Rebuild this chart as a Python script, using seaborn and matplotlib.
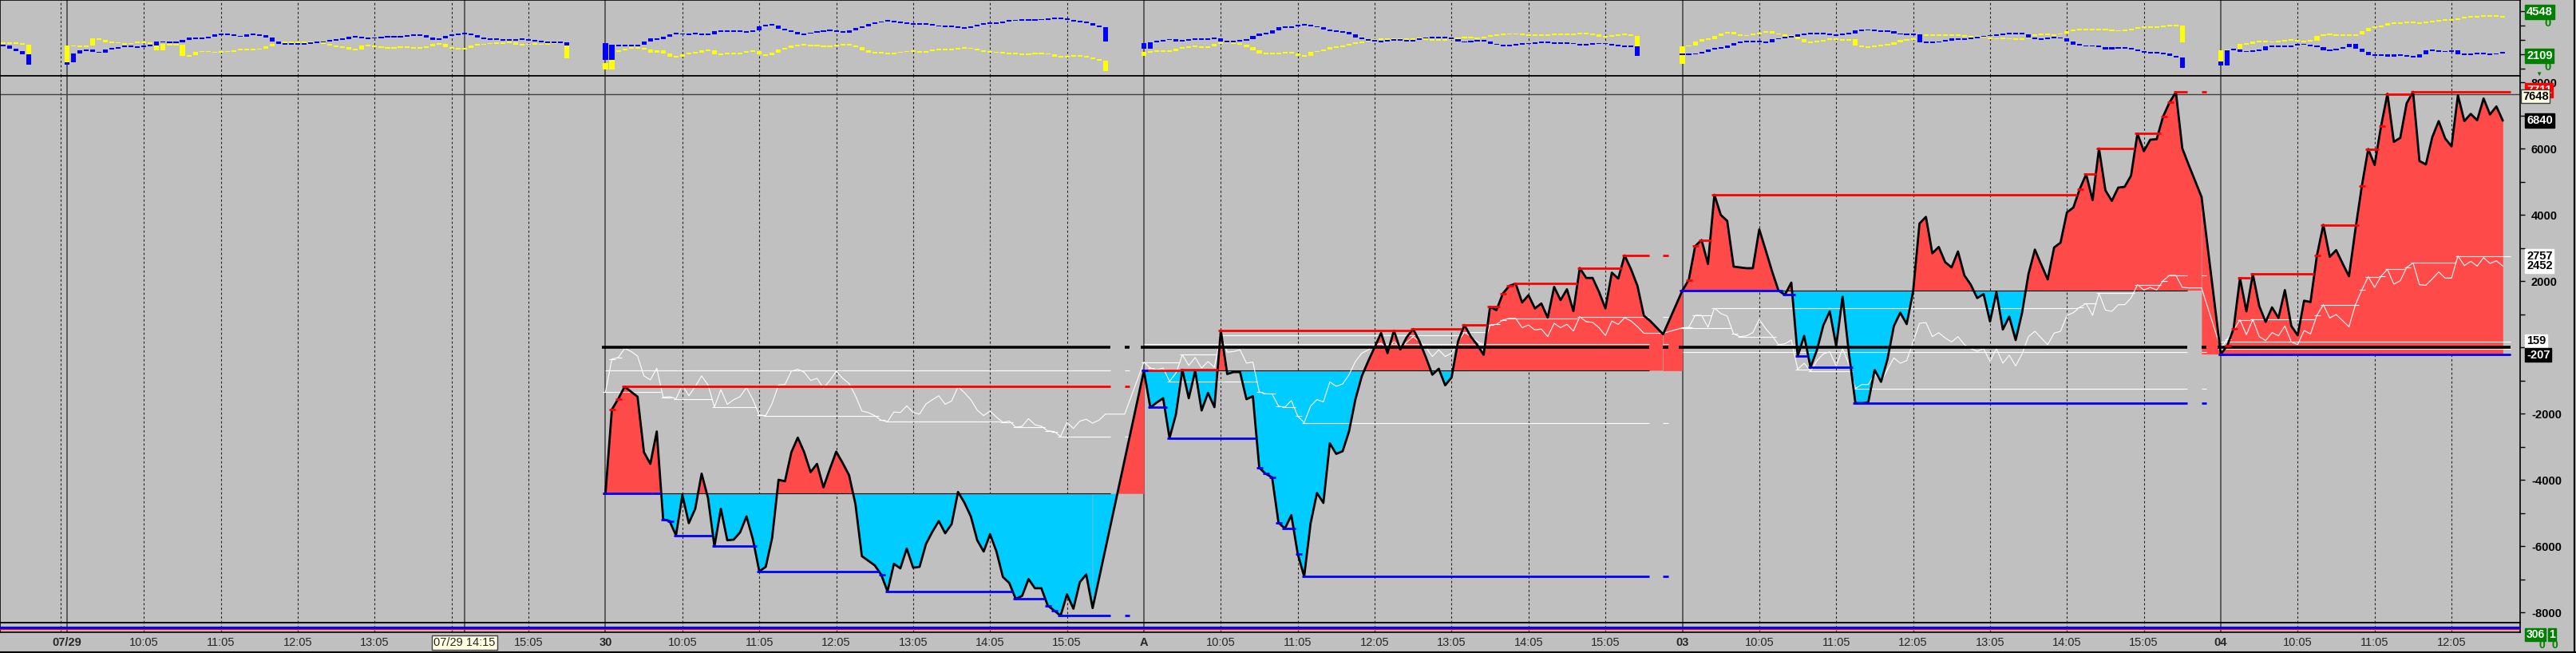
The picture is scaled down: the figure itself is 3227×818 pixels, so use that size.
import numpy as np
import pandas as pd
import matplotlib
matplotlib.use("Agg")
import matplotlib.pyplot as plt
from matplotlib.ticker import MultipleLocator, FuncFormatter, FixedLocator
import seaborn as sns

sns.set_theme(style="white")
plt.rcParams["font.family"] = ["Liberation Sans", "DejaVu Sans"]
plt.rcParams["font.weight"] = "bold"
plt.rcParams["axes.unicode_minus"] = False

# time axis: every trading day has 84 five-minute slots
day_names = ["07/29", "30", "A", "03", "04"]
day_start = [0, 84, 168, 252, 336]
hour_names = ["10:05", "11:05", "12:05", "13:05", "14:05", "15:05"]
cross_slot = 62
cross_name = "07/29 14:15"
cross_value = 7648

# main pane, black curve (one value per bar)
pnl_30 = [-4414, -1878, -1555, -1187, -1343, -1491, -3169, -3520, -2542, -5198, -5244, -5678, -4460,
          -5309, -4875, -3815, -4553, -6010, -4875, -5825, -5807, -5586, -5106, -5798, -6766, -6628,
          -5752, -4000, -4045, -3169, -2727, -3169, -3769, -3520, -4230, -3676, -3151, -3492, -3861,
          -4737, -6305, -6443, -6581, -6858, -7366, -6535, -6674, -6075, -6655, -6628, -5936, -5568,
          -5244, -5614, -5337, -4368, -4691, -5106, -5825, -6166, -5641, -6166, -6932, -7116, -7596,
          -7504, -6997, -7273, -7273, -7799, -7946, -8103, -7458, -7891, -7089, -6858, -7872]
pnl_A = [-708, -1818, -1668, -1538, -2738, -2018, -678, -1538, -708, -1908, -1378, -1808, 502, -808,
         -748, -748, -1568, -1478, -3638, -3818, -3928, -5298, -5468, -5068, -6238, -6918, -5318,
         -4398, -4698, -2898, -3218, -3138, -2538, -1568, -868, -418, 2, 432, -178, 502, -68, 302,
         552, 172, -308, -828, -648, -1148, -908, 172, 672, 322, 72, -228, 1222, 1122, 1622, 1852,
         1922, 1352, 1572, 1172, 1322, 892, 1822, 1422, 1752, 1092, 2392, 2092, 2092, 1672, 1172,
         2252, 2072, 2772, 2352, 1852, 952, 792, 592, 392]
pnl_03 = [1711, 2032, 3052, 3237, 2514, 4602, 3992, 3815, 2434, 2410, 2386, 2386, 3558, 2932, 2289,
          1711, 1582, 1952, -265, 345, -603, -81, 667, 1084, 40, 1526, -200, -1687, -1687, -1663,
          -683, -1044, -362, 642, 1044, 699, 1687, 3735, 3936, 2835, 3028, 2570, 2410, 2892, 2169,
          1888, 1486, 1606, 779, 1663, 538, 924, 217, 1044, 2209, 2948, 2490, 2048, 3012, 3157, 4072,
          4217, 4779, 5221, 4442, 6000, 4739, 4418, 4819, 4843, 5181, 6450, 5920, 6265, 6281, 6964,
          7389, 7700, 6000, 5502, 5020, 4538]
pnl_04 = [-207, 40, 562, 2088, 1084, 2209, 1245, 763, 1205, 884, 1727, 643, 361, 1406, 1365, 2771,
          3695, 2731, 2932, 2530, 2144, 3550, 4859, 5984, 5502, 6667, 7650, 6201, 6321, 7365, 7711,
          5622, 5518, 6345, 6827, 6305, 6064, 7606, 6827, 7044, 6851, 7510, 7028, 7269, 6840]

# main pane, white curve
sub_30 = [-1343, -357, -310, -34, -126, -264, -864, -984, -633, -1509, -1491, -1555, -1140, -1463,
          -1187, -864, -1140, -1804, -1279, -1721, -1583, -1491, -1214, -1583, -2044, -2063, -1694,
          -1140, -1122, -725, -661, -753, -1002, -937, -1233, -1002, -725, -937, -1094, -1463, -1924,
          -1970, -2063, -2201, -2247, -1952, -1970, -1768, -1970, -2017, -1712, -1583, -1463, -1721,
          -1620, -1187, -1371, -1583, -1897, -2063, -1924, -2109, -2266, -2229, -2413, -2385, -2155,
          -2339, -2385, -2524, -2542, -2690, -2266, -2450, -2229, -2173, -2293, -2200, -2017, -2017,
          -2017, -2017]
sub_A = [-448, -628, -678, -628, -1028, -778, -228, -548, -308, -628, -428, -608, 372, -148, -128,
         -78, -478, -448, -1348, -1408, -1408, -1778, -1808, -1608, -2078, -2278, -1778, -1578,
         -1648, -1048, -1178, -1108, -828, -428, -178, -78, 72, 122, -48, 172, -8, 152, 322, 172,
         -8, -278, -78, -278, -178, 172, 452, 322, 172, 72, 672, 692, 822, 872, 872, 592, 672, 522,
         552, 322, 722, 592, 692, 492, 922, 772, 752, 592, 352, 792, 692, 892, 792, 622, 422, 422,
         422, 422]
sub_03 = [586, 602, 964, 964, 602, 1181, 1020, 940, 402, 321, 345, 442, 843, 562, 345, 80, 104, 217,
          -667, -482, -723, -402, -201, -137, -562, -40, -522, -1245, -1125, -1125, -803, -1044, -667,
          -321, -482, -402, 161, 723, 747, 321, 442, 281, 161, 321, 80, -40, -121, -40, -426, -40,
          -482, -241, -562, -201, 321, 482, 281, 80, 426, 482, 964, 1044, 1205, 1325, 964, 1630,
          1124, 1084, 1285, 1285, 1486, 1888, 1727, 1807, 1727, 2008, 2169, 2169, 1807, 1791, 1791,
          1791]
sub_04 = [-40, 241, 522, 827, 378, 843, 321, 201, 442, 345, 643, 161, 80, 506, 402, 964, 1285, 884,
          988, 803, 618, 1285, 1727, 2128, 1807, 2145, 2353, 1904, 2008, 2410, 2546, 1888, 1872, 2064,
          2273, 2088, 2088, 2757, 2466, 2594, 2450, 2707, 2530, 2610, 2452]
ref_level = [-707, 102, -145, 159]

# top pane: yellow and blue candles (close per bar, open of each day's first bar)
top_start = [-10, 0, 84, 168, 252, 336]
yel_open = [2740, 1333, 1389, 1889, 1333, 1241]
blu_open = [2630, 1300, 2778, 2778, 2000, 1482]
yel_pre = [2778, 2815, 2778, 2667, 1400]
blu_pre = [2592, 2389, 2222, 2019, 1300]
yel_0729 = [2592, 2574, 2537, 2592, 3093, 3000, 2815, 2852, 2759, 2722, 2778, 2852, 2815, 2778, 2300,
            2750, 2630, 2667, 1889, 1926, 2167, 2222, 2167, 2111, 2222, 2167, 2296, 2352, 2315, 2315,
            2407, 2537, 2722, 2815, 2852, 2815, 2815, 2815, 2852, 2815, 2722, 2592, 2537, 2481, 2352,
            2352, 2592, 2592, 2537, 2481, 2444, 2481, 2537, 2481, 2444, 2444, 2537, 2722, 2722, 2481,
            2407, 2352, 2444, 2630, 2667, 2722, 2778, 2778, 2815, 2815, 2667, 2667, 2722, 2722, 2667,
            2778, 2815, 2815, 1741]
blu_0729 = [1426, 2074, 2259, 2333, 2167, 2111, 2352, 2389, 2518, 2592, 2537, 2481, 2592, 2592, 2870,
            2852, 2852, 2815, 3000, 3185, 3074, 3130, 3222, 3370, 3426, 3370, 3278, 3222, 3370, 3370,
            3333, 3185, 2907, 2722, 2722, 2722, 2722, 2759, 2815, 2852, 2870, 3000, 3037, 3056, 3222,
            3222, 3093, 3130, 3148, 3222, 3222, 3222, 3222, 3315, 3315, 3333, 3185, 3000, 3093, 3278,
            3370, 3426, 3426, 3333, 3185, 3037, 3037, 3037, 3000, 3000, 3037, 3037, 2944, 2944, 2870,
            2815, 2815, 2815, 2592]
yel_30 = [962, 2167, 2259, 2407, 2444, 2444, 2352, 2111, 2259, 2074, 1852, 1852, 1981, 2111, 2111,
          2296, 2296, 2019, 2019, 2111, 1981, 2111, 2222, 2222, 1981, 1944, 2111, 2352, 2444, 2592,
          2667, 2667, 2592, 2592, 2537, 2537, 2667, 2667, 2630, 2500, 2259, 2130, 2130, 2111, 2037,
          2111, 2167, 2222, 2222, 2111, 2204, 2315, 2352, 2333, 2333, 2444, 2444, 2389, 2296, 2167,
          2167, 2111, 2074, 2037, 2037, 2000, 2037, 2037, 2037, 2019, 1852, 1852, 1852, 1889, 1889,
          1796, 1667, 1555, 835]
blu_30 = [1611, 2667, 2592, 2592, 2592, 2667, 2907, 3093, 3037, 3222, 3407, 3463, 3370, 3407, 3444,
          3333, 3407, 3593, 3593, 3593, 3648, 3593, 3556, 3648, 3926, 4074, 4019, 3778, 3648, 3556,
          3370, 3426, 3519, 3593, 3648, 3648, 3556, 3519, 3648, 3833, 3963, 4111, 4204, 4296, 4333,
          4259, 4148, 4148, 4074, 4148, 4111, 4000, 3945, 3963, 3963, 3833, 3815, 3963, 4074, 4185,
          4148, 4185, 4296, 4333, 4389, 4389, 4352, 4389, 4444, 4482, 4482, 4482, 4389, 4296, 4259,
          4148, 4019, 3889, 2907]
yel_A = [2167, 2167, 2259, 2222, 2222, 2407, 2481, 2537, 2537, 2481, 2537, 2722, 2852, 2778, 2759,
         2667, 2481, 2259, 2037, 2037, 2037, 2037, 2167, 2074, 1889, 1889, 2167, 2222, 2352, 2481,
         2500, 2592, 2704, 2815, 2889, 2963, 3037, 3056, 3056, 3056, 3037, 3056, 3093, 3093, 3000,
         2963, 3000, 3000, 3056, 3185, 3185, 3148, 3093, 3222, 3333, 3370, 3407, 3426, 3407, 3333,
         3333, 3333, 3333, 3370, 3426, 3370, 3370, 3407, 3463, 3426, 3370, 3222, 3222, 3315, 3370,
         3370, 3278, 2352]
blu_A = [2407, 2852, 2907, 3000, 3056, 2907, 2963, 3037, 3037, 3037, 3093, 3093, 2907, 2907, 2907,
         2963, 3037, 3278, 3463, 3463, 3648, 3870, 3870, 3926, 4074, 4074, 3963, 3870, 3704, 3611,
         3593, 3537, 3407, 3185, 3037, 2963, 2907, 2907, 3000, 2963, 3000, 2907, 3000, 3093, 3185,
         3185, 3148, 3185, 3037, 2870, 2852, 2907, 3000, 2907, 2722, 2667, 2592, 2630, 2722, 2722,
         2778, 2815, 2852, 2778, 2778, 2778, 2778, 2722, 2630, 2722, 2722, 2778, 2722, 2630, 2592,
         2537, 2537, 1889]
yel_03 = [2537, 2630, 2870, 3037, 3037, 3278, 3463, 3556, 3407, 3278, 3333, 3407, 3519, 3593, 3463,
          3370, 3222, 3333, 3037, 2852, 2852, 2907, 3000, 3093, 3000, 3000, 3037, 2630, 2481, 2481,
          2592, 2667, 2667, 2815, 3000, 3000, 3093, 3333, 3370, 3333, 3352, 3333, 3315, 3315, 3278,
          3185, 3222, 3185, 3074, 3093, 3093, 3074, 3037, 3093, 3278, 3407, 3407, 3333, 3370, 3463,
          3593, 3704, 3741, 3741, 3741, 3704, 3704, 3630, 3648, 3685, 3778, 3870, 3926, 3889, 3926,
          3963, 4019, 3982, 2852]
blu_03 = [1981, 2019, 2037, 2167, 2333, 2407, 2444, 2592, 2778, 2907, 2907, 2907, 2852, 2852, 3037,
          3130, 3185, 3222, 3407, 3407, 3463, 3463, 3407, 3333, 3370, 3407, 3463, 3648, 3685, 3704,
          3593, 3593, 3593, 3463, 3370, 3407, 3407, 2815, 2815, 2815, 2907, 2963, 3093, 3037, 3074,
          3148, 3222, 3278, 3333, 3333, 3407, 3463, 3463, 3407, 3148, 3056, 3093, 3148, 3185, 3093,
          2907, 2667, 2630, 2537, 2630, 2481, 2352, 2481, 2444, 2407, 2352, 2222, 2111, 2148, 2111,
          2037, 1889, 1796, 1056]
yel_04 = [2259, 2296, 2407, 2722, 2722, 2870, 2907, 2852, 2870, 2907, 3000, 2963, 2907, 2907, 2963,
          3278, 3370, 3370, 3333, 3333, 3315, 3370, 3593, 3833, 3926, 3982, 4148, 4148, 4204, 4204,
          4204, 4167, 4241, 4296, 4389, 4389, 4389, 4519, 4574, 4611, 4630, 4667, 4667, 4630, 4548]
blu_04 = [1241, 2296, 2352, 2167, 2222, 2259, 2296, 2537, 2537, 2537, 2537, 2592, 2722, 2667, 2592,
          2481, 2296, 2296, 2407, 2481, 2722, 2407, 2167, 1926, 1944, 1981, 1852, 1981, 1926, 1889,
          1796, 1981, 2296, 2259, 2167, 2222, 2259, 2019, 1944, 2037, 2074, 2000, 1981, 2074, 2109]

BG = "#C0C0C0"
RED_FILL = "#FF4A4A"
CYAN = "#00CCFF"

W = 3157 / 3227
XLIM = (-10.46, 382.7)
fig = plt.figure(figsize=(32.27, 8.18), dpi=100, facecolor=BG)
ax_top = fig.add_axes([0, 1 - 95 / 818, W, 95 / 818])
ax = fig.add_axes([0, 1 - 780 / 818, W, 685 / 818])
ax_bot = fig.add_axes([0, 1 - 792 / 818, W, 12 / 818])
ax_lab = fig.add_axes([0, 0, W, 26 / 818])

grid_slots = [-1] + [d + 12 * k for d in day_start for k in range(1, 7) if d + 12 * k < XLIM[1]]

for a in (ax_top, ax, ax_bot):
    a.set_facecolor(BG)
    a.set_xlim(*XLIM)
    a.set_xticks([])
    for sp in a.spines.values():
        sp.set_color("black")
        sp.set_linewidth(1.2)
    for s in grid_slots:
        a.axvline(s, color="#202020", lw=0.8, ls=(0, (2.5, 2.5)), zorder=0.5)
    for s in day_start:
        a.axvline(s, color="#404040", lw=1.1, zorder=0.6)
    a.axvline(cross_slot, color="#404040", lw=1.1, zorder=0.6)

# ---------------- top pane candles ----------------
def candles(a, opens, closes, color):
    for s, o, c in zip(top_start, opens, closes):
        c = np.asarray(c, float)
        op = np.concatenate([[o], c[:-1]])
        h = np.abs(c - op)
        lo = np.where(h < 110, (op + c) / 2 - 55, np.minimum(op, c))
        a.bar(s + np.arange(len(c)), np.maximum(h, 110), bottom=lo, width=0.76,
              color=color, lw=0, zorder=2)

candles(ax_top, yel_open, [yel_pre, yel_0729, yel_30, yel_A, yel_03, yel_04], "#FFFF00")
candles(ax_top, blu_open, [blu_pre, blu_0729, blu_30, blu_A, blu_03, blu_04], "#0000FF")
ax_top.set_ylim(500, 5778)
ax_top.yaxis.tick_right()
ax_top.yaxis.set_major_locator(FixedLocator([1000, 2000, 3000, 4000, 5000]))
ax_top.tick_params(axis="y", direction="out", length=4, width=1, labelright=False, colors="black")

# ---------------- main pane ----------------
main_days = [pnl_30, pnl_A, pnl_03, pnl_04]
sub_days = [sub_30, sub_A, sub_03, sub_04]
main_start = day_start[1:]
line_end = [s + 78.8 for s in main_start[:3]] + [381.2]


def fill_day(xv, yv, base):
    xv = np.asarray(xv, float)
    yv = np.asarray(yv, float)
    ax.fill_between(xv, yv, base, where=yv >= base, interpolate=True, color=RED_FILL, lw=0, zorder=1)
    ax.fill_between(xv, yv, base, where=yv <= base, interpolate=True, color=CYAN, lw=0, zorder=1)


def records(x, y, end, higher):
    segs = []
    best, x0 = y[0], x[0] - 0.4
    for xi, yi in zip(x[1:], y[1:]):
        if xi > end:
            break
        if (yi > best) if higher else (yi < best):
            segs.append((best, x0, xi - 0.4))
            best, x0 = yi, xi - 0.4
    segs.append((best, x0, end))
    return segs


def draw_segs(segs, color, lw, z):
    v, a, b = zip(*segs)
    ax.hlines(v, a, b, color=color, lw=lw, zorder=z)


for i, (s, p, w) in enumerate(zip(main_start, main_days, sub_days)):
    x = s + np.arange(len(p))
    xw = s + np.arange(len(w))
    base = p[0]
    end = line_end[i]
    fill_day(x, p, base)
    if i < 3:
        nxt = main_days[i + 1]
        fill_day([x[-1], main_start[i + 1]], [p[-1], nxt[0]], min(base, nxt[0]))
    ax.hlines(base, s, end, color="black", lw=0.8, zorder=2)
    ax.hlines(ref_level[i], s, end, color="white", lw=0.8, zorder=3)
    ax.hlines(0, s - 0.5, end, color="black", lw=2.6, zorder=4)
    wmax = records(xw, w, end, True)
    wmin = records(xw, w, end, False)
    rmax = records(x, p, end, True)
    rmin = records(x, p, end, False)
    draw_segs(wmax, "white", 0.8, 3)
    draw_segs(wmin, "white", 0.8, 3)
    draw_segs(rmax, "#FF0000", 2.0, 7)
    draw_segs(rmin, "#0000FF", 2.0, 7.5)
    if i < 3:
        d0, d1 = s + 81, s + 81.8
        ax.hlines(0, d0, d1, color="black", lw=2.6, zorder=4)
        ax.hlines([ref_level[i], wmax[-1][0], wmin[-1][0]], d0, d1, color="white", lw=0.8, zorder=3)
        ax.hlines(rmax[-1][0], d0, d1, color="#FF0000", lw=2.0, zorder=7)
        ax.hlines(rmin[-1][0], d0, d1, color="#0000FF", lw=2.0, zorder=7.5)

sub_df = pd.DataFrame({
    "slot": np.concatenate([s + np.arange(len(w)) for s, w in zip(main_start, sub_days)]),
    "value": np.concatenate(sub_days),
})
main_df = pd.DataFrame({
    "slot": np.concatenate([s + np.arange(len(p)) for s, p in zip(main_start, main_days)]),
    "value": np.concatenate(main_days),
})
sns.lineplot(data=sub_df, x="slot", y="value", color="white", linewidth=0.8,
             estimator=None, sort=False, ax=ax, zorder=3.5)
sns.lineplot(data=main_df, x="slot", y="value", color="black", linewidth=2.0,
             estimator=None, sort=False, ax=ax, zorder=6)
ax.axhline(cross_value, color="#404040", lw=1.0, zorder=0.7)

ax.set_xlim(*XLIM)
ax.set_ylim(-8313, 8193)
ax.set_xlabel("")
ax.set_ylabel("")
ax.set_xticks([])
ax.yaxis.tick_right()
ax.yaxis.set_major_locator(MultipleLocator(2000))
ax.yaxis.set_minor_locator(MultipleLocator(1000))
ax.yaxis.set_major_formatter(FuncFormatter(lambda v, _: "" if abs(v) < 1 else f"{v:.0f}"))
ax.tick_params(axis="y", which="both", direction="out", length=4, width=1, pad=6,
               labelsize=10.5, colors="black")


def tag(a, value, text, fc, tc, dy=0, dx=8, ec=None, weight="bold"):
    a.annotate(text, xy=(1, value), xycoords=("axes fraction", "data"),
               xytext=(dx, dy), textcoords="offset pixels", ha="left", va="center",
               fontsize=10.5, color=tc, fontweight=weight, annotation_clip=False, zorder=10,
               bbox=dict(boxstyle="square,pad=0.12", fc=fc, ec=ec or fc, lw=1))


tag(ax, max(pnl_04), f"{max(pnl_04)}", "#FF0000", "white", dy=2)
tag(ax, cross_value, f"{cross_value}", "#FFFFE1", "black", dy=-3, dx=3, ec="#404040")
tag(ax, pnl_04[-1], f"{pnl_04[-1]}", "black", "white")
tag(ax, max(sub_04), f"{max(sub_04)}", "white", "black")
tag(ax, sub_04[-1], f"{sub_04[-1]}", "white", "black")
tag(ax, ref_level[-1], f"{ref_level[-1]}", "white", "black", dy=1)
tag(ax, min(pnl_04), f"{min(pnl_04)}", "black", "white", dy=-1)

tag(ax_top, yel_04[-1], f"{yel_04[-1]}", "#008000", "white", dy=7)
ax_top.annotate("0", xy=(1, yel_04[-1]), xycoords=("axes fraction", "data"), xytext=(30, -7),
                textcoords="offset pixels", ha="left", va="center", fontsize=10.5,
                color="#008000", fontweight="bold", annotation_clip=False)
tag(ax_top, blu_04[-1], f"{blu_04[-1]}", "#008000", "white", dy=-4)
ax_top.annotate("0", xy=(1, blu_04[-1]), xycoords=("axes fraction", "data"), xytext=(30, -18),
                textcoords="offset pixels", ha="left", va="center", fontsize=10.5,
                color="#008000", fontweight="bold", annotation_clip=False)
fig.text(3180 / 3227, 1 - 93 / 818, "\u25bc", color="#008000", fontsize=6, ha="center", va="center")

# ---------------- bottom strip ----------------
ax_bot.set_ylim(0, 1)
ax_bot.set_yticks([])
ax_bot.axhline(0.5, color="#0000FF", lw=2.2, zorder=3)
ax_bot.axhline(0.33, color="#FF0000", lw=0.9, zorder=3)
fig.text(3176 / 3227, 1 - 795 / 818, "306", color="white", fontsize=10, fontweight="bold",
         ha="center", va="center", bbox=dict(boxstyle="square,pad=0.1", fc="#008000", ec="#008000"))
fig.text(3197 / 3227, 1 - 795 / 818, "1", color="white", fontsize=10, fontweight="bold",
         ha="center", va="center", bbox=dict(boxstyle="square,pad=0.1", fc="#008000", ec="#008000"))
fig.text(3184 / 3227, 1 - 808 / 818, "0", color="#008000", fontsize=10, fontweight="bold",
         ha="center", va="center")
fig.text(3200 / 3227, 1 - 808 / 818, "0", color="#008000", fontsize=10, fontweight="bold",
         ha="center", va="center")

# ---------------- time labels ----------------
ax_lab.set_xlim(*XLIM)
ax_lab.set_ylim(0, 1)
ax_lab.axis("off")
for s, name in zip(day_start, day_names):
    ax_lab.text(s, 0.5, name, ha="center", va="center", fontsize=10.5, fontweight="bold")
    for k, h in enumerate(hour_names, start=1):
        pos = s + 12 * k
        if pos < XLIM[1] - 3 and abs(pos - cross_slot) > 4:
            ax_lab.text(pos, 0.5, h, ha="center", va="center", fontsize=10.5, fontweight="normal")
ax_lab.text(cross_slot, 0.5, cross_name, ha="center", va="center", fontsize=10.5, fontweight="normal",
            bbox=dict(boxstyle="square,pad=0.15", fc="#FFFFE1", ec="#404040", lw=1))

fig.add_artist(plt.Line2D([0, 1], [0.001, 0.001], transform=fig.transFigure, color="black", lw=1.5))
fig.add_artist(plt.Line2D([3225 / 3227] * 2, [0, 1], transform=fig.transFigure, color="black", lw=1.5))

fig.savefig("out.png", dpi=100, facecolor=BG)
